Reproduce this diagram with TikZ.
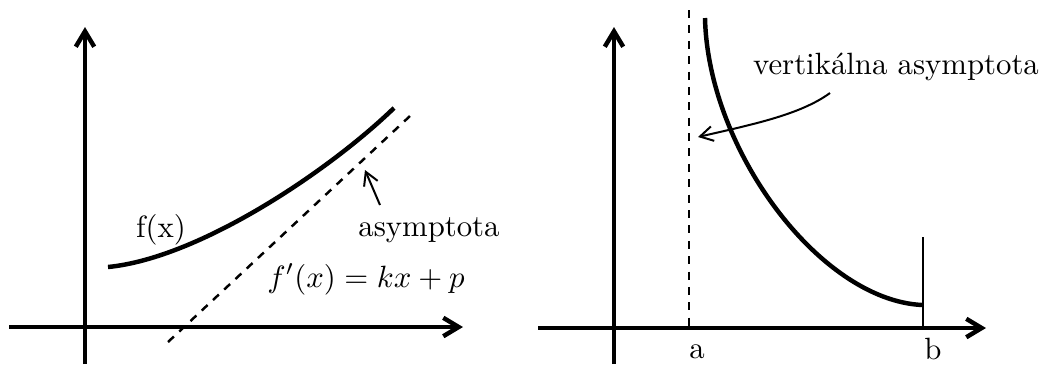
\documentclass[tikz,border=0pt]{standalone}
\usepackage{fontspec}
\usetikzlibrary{arrows.meta}
\begin{document}
\begin{tikzpicture}[x=0.325pt,y=-0.325pt,
  axis/.style={line width=1.45pt,-{Straight Barb[length=5pt,width=6pt]}},
  graph/.style={line width=1.45pt},
  asym/.style={line width=0.8pt,dash pattern=on 2.6pt off 2.4pt},
  pointer/.style={line width=0.65pt,-{Straight Barb[length=4.2pt,width=4.8pt]}},
  bound/.style={line width=0.65pt},
  lbl/.style={anchor=base,inner sep=0pt}]
\useasboundingbox (0,0) rectangle (1049,364);
% ---------- left panel ----------
\coordinate (LX0) at (9,327);   \coordinate (LX1) at (463,327);
\coordinate (LY0) at (85,364);  \coordinate (LY1) at (85,27);
\draw[axis] (LX0) -- (LX1);
\draw[axis] (LY0) -- (LY1);
\coordinate (A0) at (168,342);  \coordinate (A1) at (410,116);
\draw[asym] (A0) -- (A1);
\coordinate (F0) at (108,267);  \coordinate (F1) at (394,108);
\draw[graph] (F0) .. controls (200,258) and (330,170) .. (F1);
\node[lbl] (fx) at (161,237) {f(x)};
\node[lbl] (as) at (429,236) {asymptota};
\node[lbl] (eq) at (366,287) {$f'(x)=kx+p$};
\coordinate (P0) at (380,205);  \coordinate (P1) at (365,170);
\draw[pointer] (P0) -- (P1);
% ---------- right panel ----------
\coordinate (RX0) at (538,328); \coordinate (RX1) at (986,328);
\coordinate (RY0) at (614,364); \coordinate (RY1) at (614,27);
\draw[axis] (RX0) -- (RX1);
\draw[axis] (RY0) -- (RY1);
\coordinate (V0) at (689,10);   \coordinate (V1) at (689,328);
\draw[asym] (V0) -- (V1);
\coordinate (G0) at (705,18);   \coordinate (G1) at (922,305);
\draw[graph] (G0) .. controls (708,150) and (820,300) .. (G1);
\coordinate (B0) at (923,237);  \coordinate (B1) at (923,328);
\draw[bound] (B0) -- (B1);
\node[lbl] (la) at (697,358) {a};
\node[lbl] (lb) at (933,359) {b};
\node[lbl] (va) at (896,74) {vertikálna asymptota};
\coordinate (Q0) at (830,93);   \coordinate (Q1) at (698,137);
\draw[pointer] (Q0) .. controls (800,115) and (750,125) .. (Q1);
\end{tikzpicture}
\end{document}
